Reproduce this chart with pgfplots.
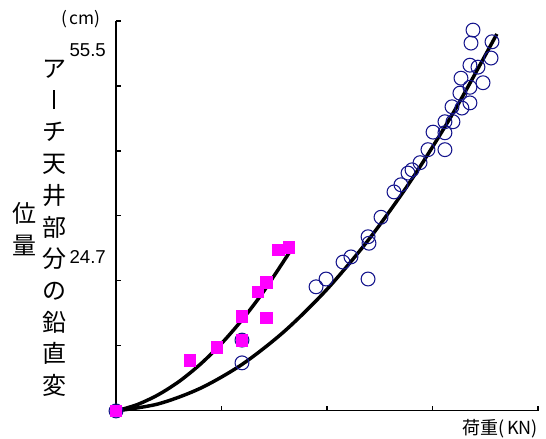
\documentclass[border=0pt]{standalone}
\usepackage{pgfplots}
\pgfplotsset{compat=1.18}
\usepackage{fontspec}
\setmainfont{Liberation Sans}
\newfontfamily\cjk{Noto Sans CJK JP}
\definecolor{cblue}{RGB}{20,20,140}
\definecolor{cmag}{RGB}{255,0,255}
\begin{document}
\begin{tikzpicture}
\begin{axis}[
 scale only axis, width=316.5pt, height=292.5pt,
 xmin=0, xmax=400, ymin=0, ymax=60,
 axis lines=left, axis line style={-, line width=0.8pt},
 xtick={0,100,...,400}, ytick={0,10,...,60},
 xticklabels={}, yticklabels={},
 tick align=inside, major tick length=4pt,
 tick style={line width=0.8pt, black},
 clip=false,
]
% circles (blue)
\addplot[only marks, mark=o, mark size=5.2pt, cblue, mark options={line width=0.8pt}] coordinates {
(0,0) (119.4,10.9) (119.4,7.4) (189.6,19.1) (199.1,20.3) (215.2,22.9) (222.7,23.7)
(238.9,20.3) (238.9,26.8) (239.8,25.8) (251.2,29.8) (263.5,33.7) (270.1,34.8)
(276.8,36.6) (280.6,37.1) (288.2,38.2) (295.7,40.2) (311.8,40.2) (300.5,42.9)
(311.8,42.8) (311.8,44.5) (319.4,44.5) (318.5,46.8) (327.9,46.6) (335.5,47.4)
(326.0,48.9) (327.0,51.2) (335.5,49.8) (347.9,50.5) (335.5,53.2) (343.1,52.9)
(355.5,54.3) (356.4,56.8) (336.5,56.6) (338.4,58.6)
};
% squares (magenta)
\addplot[only marks, mark=square*, mark size=4.3pt, cmag, mark options={draw=cmag, fill=cmag}] coordinates {
(0,0) (70.1,7.8) (95.7,9.8) (119.4,10.9) (119.4,14.6) (142.2,14.3) (134.6,18.3)
(142.2,19.8) (153.6,24.8) (163.5,25.2)
};
% trend lines
\addplot[black, line width=2.6pt, smooth] coordinates {
(0,0) (20,0.97) (40,2.49) (60,4.56) (80,7.2) (100,10.38) (120,14.12) (140,18.41) (164,24.3)
};
\addplot[black, line width=2.6pt, smooth] coordinates {
(0,0) (40,1.08) (80,3.49) (120,7.22) (160,12.31) (200,18.72) (240,26.47) (280,35.55) (320,45.96) (361,58.0)
};
% labels
\node[anchor=east, font=\fontsize{14}{16}\selectfont] at (axis cs:-5.2,55.5) {55.5};
\node[anchor=east, font=\fontsize{14}{16}\selectfont] at (axis cs:-5.2,23.7) {24.7};
\node[font=\cjk\fontsize{13}{15}\selectfont] at (axis cs:-33.2,60.3) {(\,cm)};
\node[font=\cjk\fontsize{13.5}{15}\selectfont] at (axis cs:364.0,-2.77) {荷重(\,KN)};
\node[align=center, font=\cjk\fontsize{18}{23.8}\selectfont, inner sep=0pt] at (axis cs:-58.8,28.1)
 {ア\\\rule{2pt}{14pt}\\チ\\天\\井\\部\\分\\の\\鉛\\直\\変};
\node[align=center, font=\cjk\fontsize{18}{23.8}\selectfont, inner sep=0pt] at (axis cs:-86.3,28.0)
 {位\\量};
\coordinate (bl) at (axis cs:-110,-4.31);
\coordinate (tr) at (axis cs:407.6,63.23);
\end{axis}
\pgfresetboundingbox
\path[use as bounding box] (bl) rectangle (tr);
\end{tikzpicture}
\end{document}
